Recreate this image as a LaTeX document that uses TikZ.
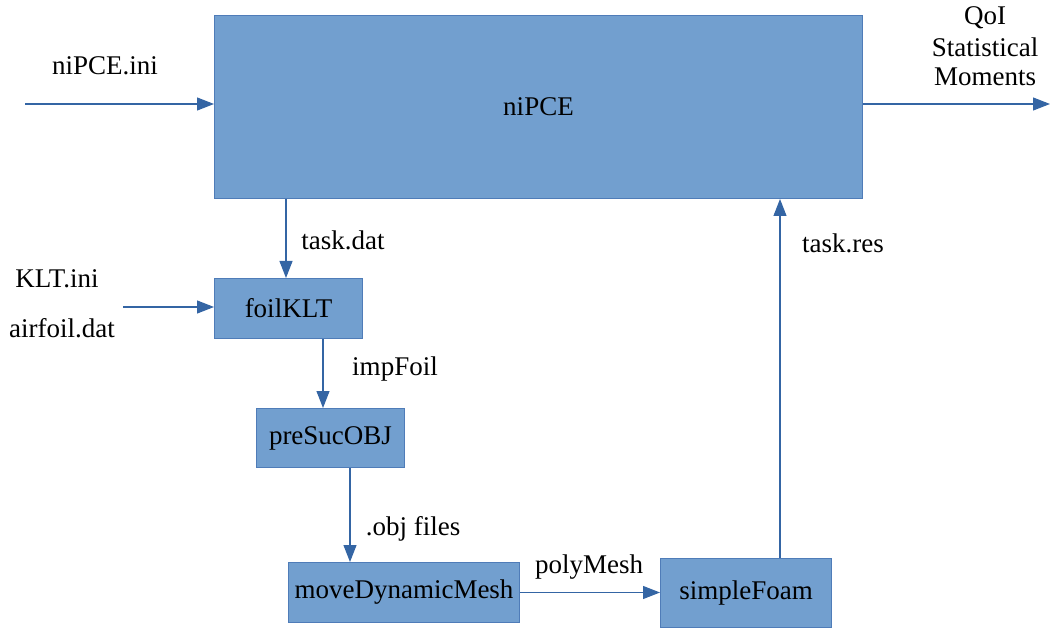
\documentclass[tikz,border=0pt]{standalone}
\usepackage{fontspec}
\setmainfont{Liberation Serif}
\usetikzlibrary{arrows.meta}
\definecolor{boxfill}{HTML}{729FCF}
\definecolor{boxline}{HTML}{4F7CB8}
\definecolor{flow}{HTML}{3465A4}
\begin{document}
\begin{tikzpicture}[x=1pt,y=-1pt,
  font=\fontsize{27}{30}\selectfont,
  block/.style={draw=boxline, fill=boxfill, line width=1pt, inner sep=0pt, anchor=north west},
  flowarrow/.style={draw=flow, line width=1.1pt, -{Triangle[length=17pt,width=13pt]}},
  lbl/.style={inner sep=0pt}]
\useasboundingbox (0,0) rectangle (1052,628);

% processing blocks
\node[block, minimum width=648pt, minimum height=183pt] (nipce) at (214,15) {niPCE};
\node[block, minimum width=148pt, minimum height=60pt] (foil) at (214,278) {foilKLT};
\node[block, minimum width=148pt, minimum height=59pt] (presuc) at (256,408) {preSucOBJ};
\node[block, minimum width=231pt, minimum height=60pt] (move) at (288,562) {moveDynamicMesh};
\node[block, minimum width=171pt, minimum height=69pt] (simple) at (660,558) {simpleFoam};

% free ends and column positions of the connectors
\coordinate (inA) at (25,104);
\coordinate (outA) at (1050,104);
\coordinate (kltIn) at (123,307);
\coordinate (colTask) at (286,0);
\coordinate (colImp) at (323,0);
\coordinate (colObj) at (350,0);
\coordinate (colRes) at (780,0);

% connectors
\draw[flowarrow] (inA) -- (inA -| nipce.west);
\draw[flowarrow] (outA -| nipce.east) -- (outA);
\draw[flowarrow] (colTask |- nipce.south) -- (colTask |- foil.north);
\draw[flowarrow] (kltIn) -- (kltIn -| foil.west);
\draw[flowarrow] (colImp |- foil.south) -- (colImp |- presuc.north);
\draw[flowarrow] (colObj |- presuc.south) -- (colObj |- move.north);
\draw[flowarrow] (move.east) -- (move.east -| simple.west);
\draw[flowarrow] (colRes |- simple.north) -- (colRes |- nipce.south);

% labels
\node[lbl] (lIni) at (105,66) {niPCE.ini};
\node[lbl] (lQoI) at (985,18) {QoI};
\node[lbl] (lStat) at (985,47) {Statistical};
\node[lbl] (lMom) at (985,77) {Moments};
\node[lbl] (lTask) at (343,240) {task.dat};
\node[lbl] (lKlt) at (57,279) {KLT.ini};
\node[lbl] (lAir) at (62,328) {airfoil.dat};
\node[lbl] (lImp) at (395,369) {impFoil};
\node[lbl] (lObj) at (413,529) {.obj files};
\node[lbl] (lPoly) at (589,567) {polyMesh};
\node[lbl] (lRes) at (843,243) {task.res};
\end{tikzpicture}
\end{document}
